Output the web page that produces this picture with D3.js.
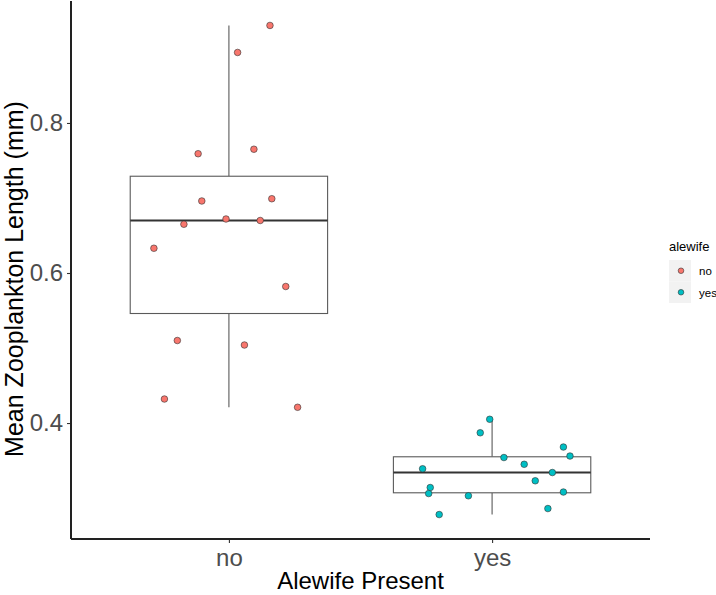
<!DOCTYPE html>
<html>
<head>
<meta charset="utf-8">
<script src="https://cdn.jsdelivr.net/npm/d3@7"></script>
<style>
  body { margin: 0; background: #fff; }
  svg { font-family: Arial, "Liberation Sans", sans-serif; }
</style>
</head>
<body>
<svg id="chart" width="716" height="595"></svg>
<script>
// groups on the x axis
var groups = ["no", "yes"];
var groupColors = ["#F8766D", "#00BFC4"];

// mean zooplankton length (mm) for each lake, with the horizontal jitter (in category units)
var lengthNo = [0.930, 0.894, 0.759, 0.765, 0.696, 0.699, 0.672, 0.670, 0.665, 0.633, 0.582, 0.510, 0.504, 0.432, 0.421];
var jitterNo = [0.156, 0.033, -0.117, 0.095, -0.103, 0.163, -0.011, 0.119, -0.171, -0.285, 0.216, -0.196, 0.059, -0.245, 0.261];

var lengthYes = [0.405, 0.387, 0.368, 0.356, 0.354, 0.345, 0.339, 0.334, 0.323, 0.314, 0.306, 0.308, 0.303, 0.286, 0.278];
var jitterYes = [-0.009, -0.045, 0.271, 0.296, 0.045, 0.122, -0.264, 0.229, 0.164, -0.235, -0.241, 0.271, -0.090, 0.212, -0.201];

var yTicks = [0.4, 0.6, 0.8];

var panel = {left: 71, right: 650, top: 1, bottom: 539};

var svg = d3.select("#chart");

var allValues = lengthNo.concat(lengthYes);
var extent = d3.extent(allValues);
var pad = (extent[1] - extent[0]) * 0.05;

var x = d3.scalePoint().domain(groups).range([panel.left, panel.right]).padding(0.6);
var y = d3.scaleLinear().domain([extent[0] - pad, extent[1] + pad]).range([panel.bottom, panel.top]);
var color = d3.scaleOrdinal().domain(groups).range(groupColors);

var series = [
    {group: "no", values: lengthNo, jitter: jitterNo},
    {group: "yes", values: lengthYes, jitter: jitterYes}
];

function boxStats(vals) {
    var s = vals.slice().sort(d3.ascending);
    var q1 = d3.quantile(s, 0.25), med = d3.quantile(s, 0.5), q3 = d3.quantile(s, 0.75);
    var iqr = q3 - q1;
    var lo = d3.min(s.filter(function(v) { return v >= q1 - 1.5 * iqr; }));
    var hi = d3.max(s.filter(function(v) { return v <= q3 + 1.5 * iqr; }));
    return {q1: q1, med: med, q3: q3, lo: lo, hi: hi};
}

var boxW = x.step() * 0.75;
var boxColor = "#5a5a5a";

// boxplots
series.forEach(function(d) {
    var st = boxStats(d.values);
    var cx = x(d.group);
    var g = svg.append("g");
    g.append("line").attr("x1", cx).attr("x2", cx).attr("y1", y(st.q3)).attr("y2", y(st.hi))
        .attr("stroke", boxColor).attr("stroke-width", 1.1);
    g.append("line").attr("x1", cx).attr("x2", cx).attr("y1", y(st.q1)).attr("y2", y(st.lo))
        .attr("stroke", boxColor).attr("stroke-width", 1.1);
    g.append("rect").attr("x", cx - boxW / 2).attr("y", y(st.q3))
        .attr("width", boxW).attr("height", y(st.q1) - y(st.q3))
        .attr("fill", "white").attr("stroke", boxColor).attr("stroke-width", 1.1);
    g.append("line").attr("x1", cx - boxW / 2).attr("x2", cx + boxW / 2)
        .attr("y1", y(st.med)).attr("y2", y(st.med))
        .attr("stroke", "#333").attr("stroke-width", 2);
});

// jittered points
series.forEach(function(d) {
    svg.append("g").selectAll("circle")
        .data(d.values)
        .enter()
        .append("circle")
        .attr("cx", function(v, i) { return x(d.group) + d.jitter[i] * x.step(); })
        .attr("cy", function(v) { return y(v); })
        .attr("r", 3.3)
        .attr("fill", color(d.group))
        .attr("stroke", "#333")
        .attr("stroke-width", 0.6);
});

// axes
var yAxis = svg.append("g")
    .attr("transform", "translate(" + panel.left + ",0)")
    .call(d3.axisLeft(y).tickValues(yTicks).tickSize(4).tickPadding(4).tickFormat(d3.format(".1f")));
yAxis.select(".domain").remove();
yAxis.selectAll(".tick line").attr("stroke", "#333").attr("stroke-width", 1.1);
yAxis.selectAll(".tick text").attr("fill", "#4D4D4D").attr("font-size", 24).attr("font-family", "Arial, 'Liberation Sans', sans-serif");

var xAxis = svg.append("g")
    .attr("transform", "translate(0," + panel.bottom + ")")
    .call(d3.axisBottom(x).tickSize(4).tickPadding(6));
xAxis.select(".domain").remove();
xAxis.selectAll(".tick line").attr("stroke", "#333").attr("stroke-width", 1.1);
xAxis.selectAll(".tick text").attr("fill", "#4D4D4D").attr("font-size", 24).attr("font-family", "Arial, 'Liberation Sans', sans-serif");

// axis lines
svg.append("line").attr("x1", panel.left).attr("x2", panel.left).attr("y1", panel.top).attr("y2", panel.bottom)
    .attr("stroke", "#222").attr("stroke-width", 2);
svg.append("line").attr("x1", panel.left).attr("x2", panel.right).attr("y1", panel.bottom).attr("y2", panel.bottom)
    .attr("stroke", "#222").attr("stroke-width", 2);

// axis titles
svg.append("text")
    .attr("x", (panel.left + panel.right) / 2).attr("y", 589)
    .attr("text-anchor", "middle").attr("font-size", 24).attr("fill", "#000")
    .text("Alewife Present");
svg.append("text")
    .attr("transform", "translate(23,279) rotate(-90)")
    .attr("text-anchor", "middle").attr("font-size", 25).attr("fill", "#000")
    .text("Mean Zooplankton Length (mm)");

// legend
var legend = svg.append("g").attr("transform", "translate(669,0)");
legend.append("text").attr("x", 0).attr("y", 251).attr("font-size", 13).attr("fill", "#000").text("alewife");
var keys = legend.selectAll("g.key").data(groups).enter().append("g")
    .attr("transform", function(d, i) { return "translate(0," + (260 + i * 21.5) + ")"; });
keys.append("rect").attr("width", 22).attr("height", 21.5).attr("fill", "#F2F2F2");
keys.append("circle").attr("cx", 12).attr("cy", 10.75).attr("r", 2.8)
    .attr("fill", function(d) { return color(d); }).attr("stroke", "#333").attr("stroke-width", 0.6);
keys.append("text").attr("x", 30).attr("y", 15).attr("font-size", 11.5).attr("fill", "#000")
    .text(function(d) { return d; });
</script>
</body>
</html>
